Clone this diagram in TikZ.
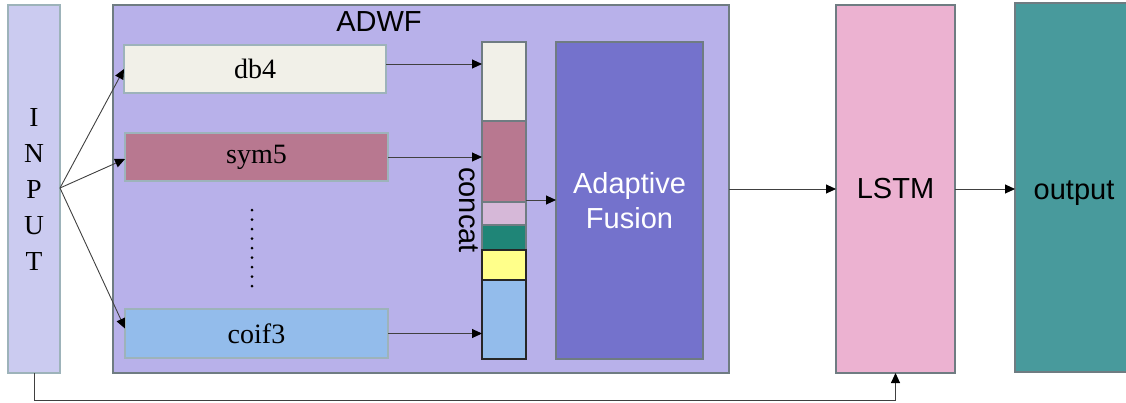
\documentclass[tikz,border=0pt]{standalone}
\usepackage{fontspec}
\setmainfont{Liberation Serif}
\setsansfont{Liberation Sans}
\usetikzlibrary{arrows.meta}

\definecolor{edgegray}{HTML}{6F7C82}
\definecolor{lightedge}{HTML}{9DB3BA}
\definecolor{inputfill}{HTML}{CBCBF0}
\definecolor{adwffill}{HTML}{B8B1EA}
\definecolor{creamfill}{HTML}{F1F0E8}
\definecolor{mauvefill}{HTML}{B87890}
\definecolor{bluefill}{HTML}{93BCEB}
\definecolor{lilacfill}{HTML}{D6B8D8}
\definecolor{tealfill}{HTML}{1F8577}
\definecolor{yellowfill}{HTML}{FFFF8A}
\definecolor{fusionfill}{HTML}{7472CC}
\definecolor{lstmfill}{HTML}{ECB2D1}
\definecolor{outfill}{HTML}{489A9C}
\definecolor{arrowgray}{HTML}{404040}

\tikzset{
  box/.style={draw=edgegray, line width=1.1pt, inner sep=0pt, outer sep=0pt, rectangle},
  seg/.style={box, minimum width=44pt},
  serifbig/.style={font=\fontsize{28}{34}\selectfont},
  sansbig/.style={font=\sffamily\fontsize{29}{35}\selectfont},
  arr/.style={draw=arrowgray, line width=0.9pt, -{Triangle[length=10pt,width=9pt,color=black,fill=black]}},
}

\begin{document}
\begin{tikzpicture}[x=1pt, y=-1pt]
\useasboundingbox (0,0) rectangle (1126,402);

% input column
\node[box, draw=lightedge, fill=inputfill, minimum width=52pt, minimum height=368pt,
      align=center, font=\fontsize{27.5}{36}\selectfont] (input) at (34,189) {I\\N\\P\\U\\T};

% ADWF block
\node[box, fill=adwffill, minimum width=616pt, minimum height=368pt] (adwf) at (421,189) {};
\node[sansbig] (adwflabel) at (379,22) {ADWF};

% wavelet branches
\node[box, draw=lightedge, fill=creamfill, minimum width=262pt, minimum height=48pt, serifbig] (db4) at (255,69) {db4};
\node[box, draw=lightedge, fill=mauvefill, minimum width=263pt, minimum height=48pt, serifbig] (sym5) at (256.5,157) {sym5};
\node[box, draw=lightedge, fill=bluefill, minimum width=263pt, minimum height=49pt, serifbig] (coif3) at (256.5,333.5) {coif3};
\draw[line width=3pt, line cap=round, dash pattern=on 0pt off 9.5pt] (252,210) -- (252,287);

% concatenated feature column
\node[seg, fill=creamfill, minimum height=79pt] (c1) at (504,81.5) {};
\node[seg, fill=mauvefill, minimum height=81pt] (c2) at (504,161.5) {};
\node[seg, fill=lilacfill, minimum height=23pt] (c3) at (504,213.5) {};
\node[seg, fill=tealfill, minimum height=25pt] (c4) at (504,237.5) {};
\node[seg, draw=black!85, fill=yellowfill, minimum height=30pt] (c5) at (504,265) {};
\node[seg, draw=black!85, fill=bluefill, minimum height=79pt] (c6) at (504,319.5) {};
\node[sansbig, rotate=-90, anchor=base] (concatlabel) at (459,210) {concat};

% fusion
\node[box, fill=fusionfill, minimum width=147pt, minimum height=317pt, sansbig,
      text=white, align=center] (fusion) at (629.5,200.5) {Adaptive\\Fusion};

% LSTM and output
\node[box, fill=lstmfill, minimum width=119pt, minimum height=368pt, sansbig] (lstm) at (895.5,189) {LSTM};
\node[box, fill=outfill, minimum width=118pt, minimum height=369pt] (output) at (1074,187.5) {};
\node[sansbig, anchor=base] (outputlabel) at (1074,199) {output};

% connectors
\coordinate (split) at (input.east);
\draw[arr] ([yshift=1pt]split) -- (db4.west);
\draw[arr] ([yshift=1pt]split) -- ([yshift=-2pt]sym5.west);
\draw[arr] ([yshift=1pt]split) -- ([yshift=5pt]coif3.west);

\draw[arr] ([yshift=5pt]db4.east) -- ([yshift=5pt]db4.east -| c1.west);
\draw[arr] (sym5.east) -- (sym5.east -| c2.west);
\draw[arr] (coif3.east) -- (coif3.east -| c6.west);

\draw[arr] ([yshift=2pt]c2.south east) -- ([yshift=2pt]c2.south east -| fusion.west);

\draw[arr] (adwf.east) -- (lstm.west);
\draw[arr] (lstm.east) -- (lstm.east -| output.west);

\coordinate (fb) at (input.south |- 0,400.5);
\draw[arr] (input.south) -- (fb) -| (lstm.south);
\end{tikzpicture}
\end{document}
